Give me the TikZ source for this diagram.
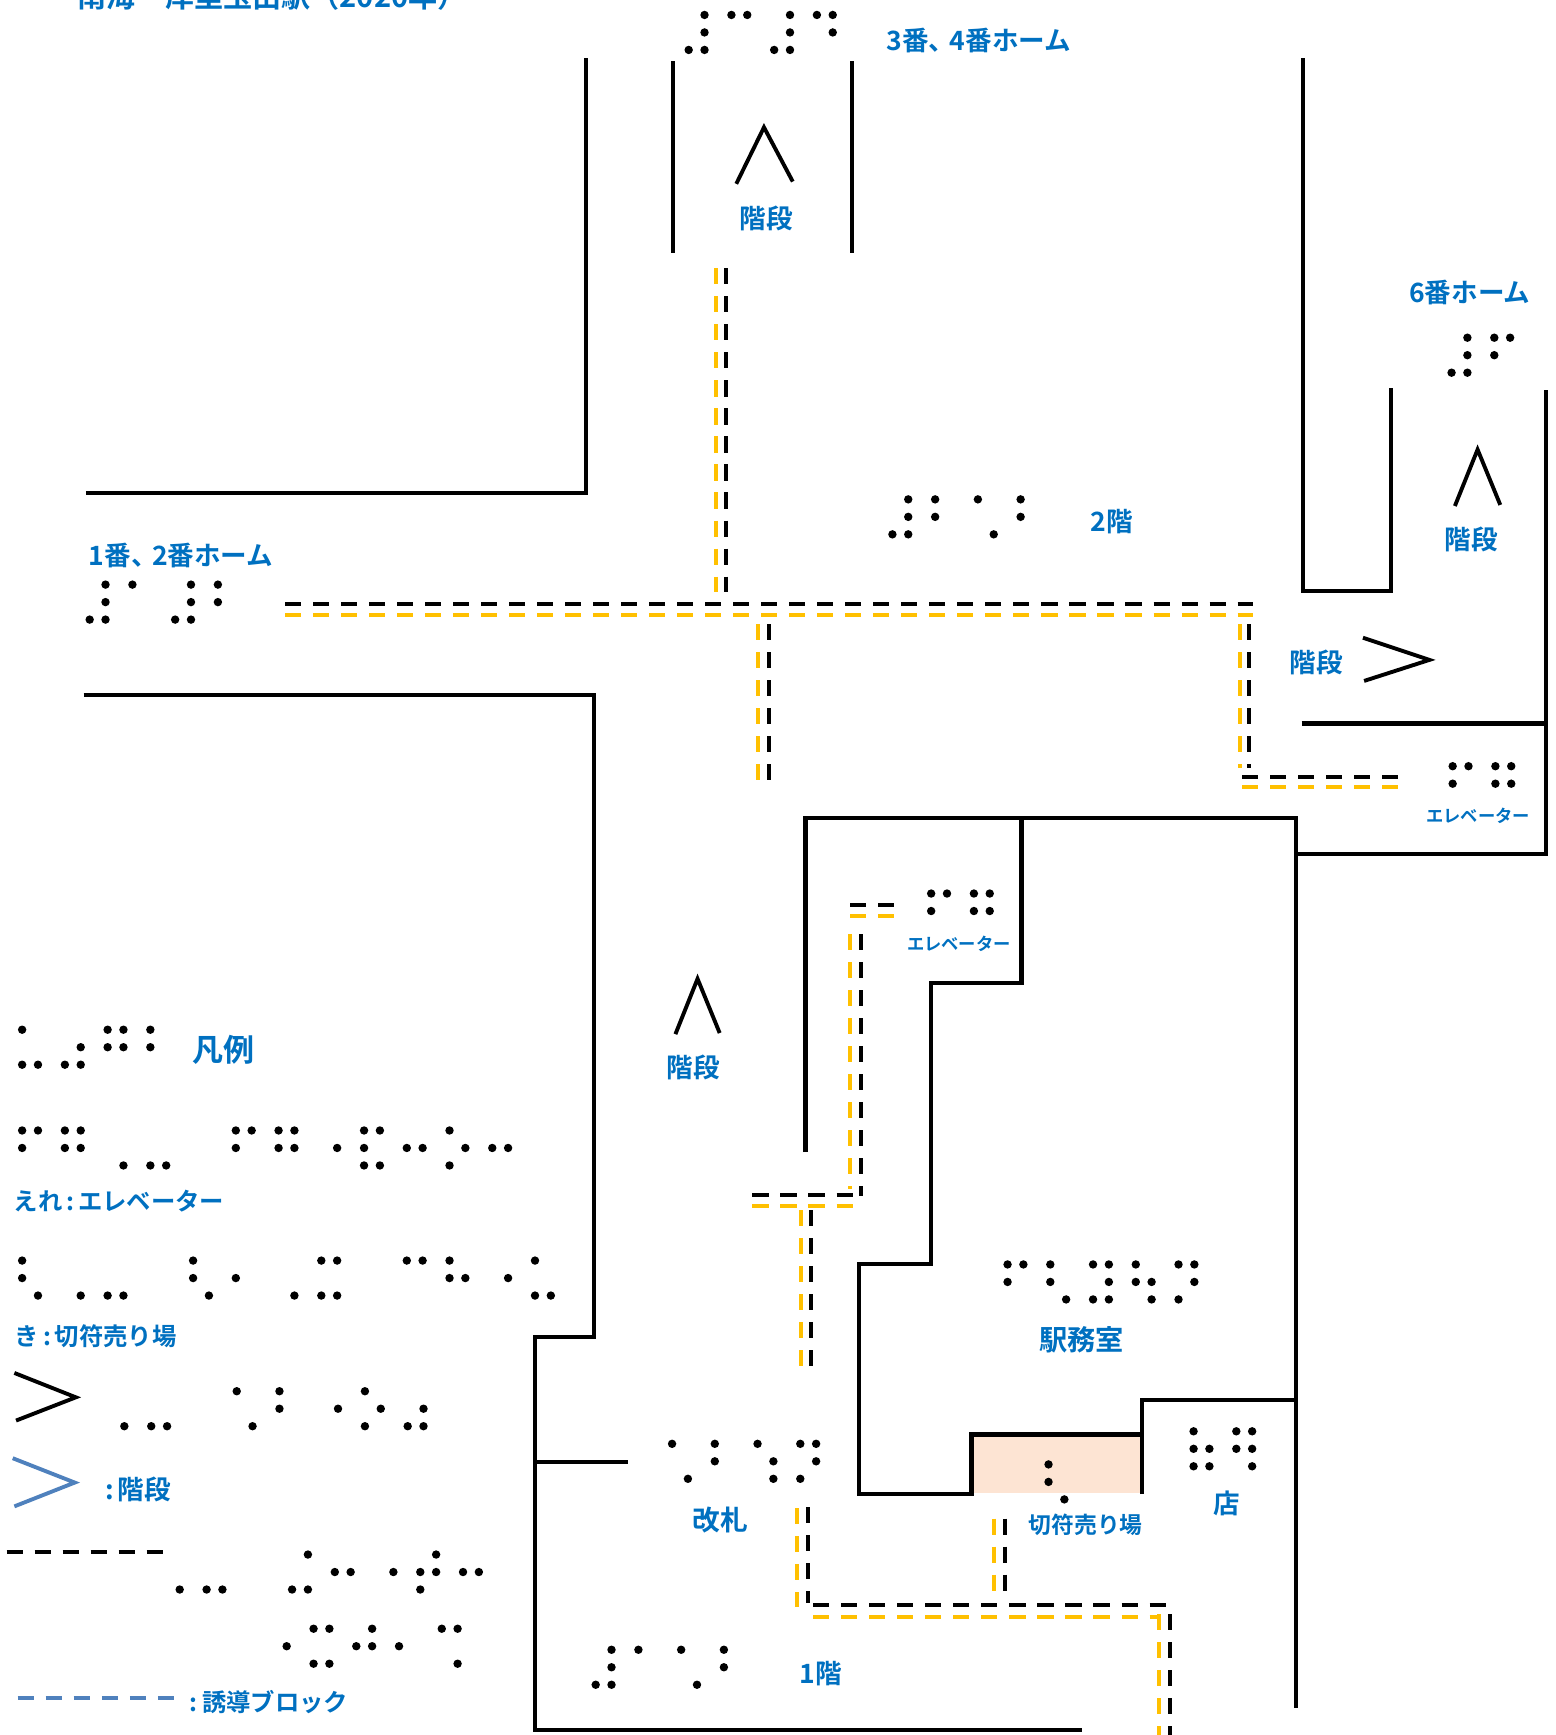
\documentclass[tikz,border=0pt]{standalone}
\usepackage{fontspec}
\setmainfont{Noto Sans CJK JP}[BoldFont={Noto Sans CJK JP Bold}]
\definecolor{lbl}{HTML}{0070C0}
\definecolor{ora}{HTML}{FFC000}
\definecolor{leg}{HTML}{4F81BD}
\definecolor{peach}{HTML}{FDE4D3}
\newcommand{\brl}[3]{%
  \foreach \cellv [count=\ci from 0] in {#3}{%
    \foreach \dv in \cellv{%
      \ifnum\dv>0
        \pgfmathsetmacro{\bx}{#1+\ci*38.6+(\dv>3?14.3:0)}%
        \pgfmathsetmacro{\by}{#2+mod(\dv-1,3)*15.8}%
        \fill (\bx,\by) circle[radius=3.8];%
      \fi
    }%
  }%
}
\newcommand{\cln}{\kern3.5pt:\kern3.5pt}
\tikzset{
  x=1pt,y=-1pt,
  wall/.style={line width=3.8pt,black,line join=miter},
  chev/.style={line width=3.5pt,black,line join=miter},
  blk/.style={line width=3.6pt,black,dash pattern=on 14.5pt off 10.8pt},
  org/.style={line width=3.6pt,ora,dash pattern=on 14.5pt off 10.8pt},
  lab/.style={font=\bfseries\fontsize{24}{24}\selectfont,text=lbl,inner sep=0pt},
  labs/.style={font=\bfseries\fontsize{15.6}{16}\selectfont,text=lbl,inner sep=0pt},
  labm/.style={font=\bfseries\fontsize{22}{22}\selectfont,text=lbl,inner sep=0pt},
}
\begin{document}
\begin{tikzpicture}
\useasboundingbox (0,0) rectangle (1405,1567);
\clip (0,0) rectangle (1405,1567);
% peach ticket area
\fill[peach] (878,1296) rectangle (1032,1348);
% walls
\begin{scope}[xshift=-0.5pt,yshift=0.5pt]
\draw[wall] (78,446) -- (530,446) -- (530,53);
\draw[wall] (608,56) -- (608,229);
\draw[wall] (770,56) -- (770,229);
\draw[wall] (1177,53) -- (1177,534) -- (1257,534) -- (1257,351);
\draw[wall] (1397,353) -- (1397,772) -- (1171,772);
\draw[wall] (1176,654) -- (1397,654);
\draw[wall] (76,628) -- (537,628) -- (537,1208) -- (484,1208) -- (484,1563) -- (978,1563);
\draw[wall] (484,1321) -- (568,1321);
\draw[wall] (728,1041) -- (728,739) -- (1171,739) -- (1171,1543);
\draw[wall] (923,739) -- (923,888) -- (841,888) -- (841,1142) -- (776,1142) -- (776,1350) -- (878,1350) -- (878,1296) -- (1032,1296);
\draw[wall] (1032,1350) -- (1032,1265) -- (1171,1265);
\end{scope}
% stair chevrons
\draw[chev] (665,166) -- (690,115) -- (716,164);
\draw[chev] (1314,457) -- (1334.5,406) -- (1355,456);
\draw[chev] (1231,576) -- (1291,596) -- (1232,615);
\draw[chev] (610,934) -- (630,884) -- (650,933);
\draw[chev] (13,1240) -- (68.5,1262) -- (14.5,1283);
\draw[chev,leg] (11.5,1317) -- (67.5,1339) -- (13,1360.5);
% guide blocks
\draw[org] (646.5,242.4) -- (646.5,535);
\draw[blk] (656,242.4) -- (656,535);
\draw[blk] (257.5,545.6) -- (1132,545.6);
\draw[org] (257.5,555.3) -- (1132,555.3);
\draw[org] (685,563.7) -- (685,705);
\draw[blk] (694.6,563.7) -- (694.6,705);
\draw[org] (1120,563.7) -- (1120,693.8);
\draw[blk] (1128.4,563.7) -- (1128.4,693.8);
\draw[blk] (1122,701.5) -- (1263,701.5);
\draw[org] (1122,711) -- (1263,711);
\draw[blk] (767.8,817.5) -- (808,817.5);
\draw[org] (767.8,827) -- (808,827);
\draw[org] (768,843.8) -- (768,1074);
\draw[blk] (777.8,843.8) -- (777.8,1080);
\draw[blk] (679.6,1079.7) -- (770,1079.7);
\draw[org] (679.6,1089.5) -- (770,1089.5);
\draw[org] (723,1093) -- (723,1235);
\draw[blk] (732.8,1093) -- (732.8,1235);
\draw[org] (719.6,1362) -- (719.6,1451.7);
\draw[blk] (729.6,1361.4) -- (729.6,1448);
\draw[blk] (734.6,1450) -- (1053,1450);
\draw[org] (734.6,1460) -- (1049,1460);
\draw[org] (1047,1458) -- (1047,1567);
\draw[blk] (1057,1458) -- (1057,1567);
\draw[org] (897.6,1371.6) -- (897.6,1437);
\draw[blk] (907.3,1371.6) -- (907.3,1437);
% legend dashes
\draw[blk] (6,1402) -- (148,1402);
\draw[line width=3.6pt,leg,dash pattern=on 14.5pt off 10.8pt] (16,1533.5) -- (157,1533.5);
% braille
\brl{622}{13.5}{{3,4,5,6},{1,4},{3,4,5,6},{1,4,5}}
\brl{1311}{305}{{3,4,5,6},{1,2,4}}
\brl{806}{451}{{3,4,5,6},{1,2},{1,6},{1,2}}
\brl{81}{528}{{3,4,5,6},{1},{3,4,5,6},{1,2}}
\brl{1312}{692}{{1,2,4},{1,2,4,5}}
\brl{841}{807}{{1,2,4},{1,2,4,5}}
\brl{20}{930}{{1,3,6},{3,5,6},{1,2,4,5},{1,2}}
\brl{20}{1021}{{1,2,4},{1,2,4,5},{6},{3,6},{0},{1,2,4},{1,2,4,5},{5},{1,2,3,4,6},{2,5},{1,3,5},{2,5}}
\brl{20}{1138.5}{{1,2,6},{6},{3,6},{0},{1,2,6},{2},{6},{1,3,4,6},{0},{1,4},{1,2,5},{5},{1,3,6}}
\brl{98}{1256.5}{{6},{3,6},{0},{1,6},{1,2},{5},{1,3,5},{3,5,6}}
\brl{148}{1404}{{6},{3,6},{0},{3,4,6},{2,5},{5},{2,3,4,5},{2,5}}
\brl{244.6}{1471}{{5},{1,3,4,6},{2,4,5},{2},{1,4,6}}
\brl{607}{1304}{{1,6},{1,2},{1,5,6},{1,3,4,5}}
\brl{538}{1490}{{3,4,5,6},{1},{1,6},{1,2}}
\brl{910}{1142}{{1,2,4},{1,2,6},{1,3,4,5,6},{1,2,5,6},{1,3,4,5}}
\brl{1078}{1292.7}{{1,2,3,5,6},{1,2,4,5,6}}
\brl{947}{1322.6}{{1,2,6}}
% labels
\node[lab,font=\bfseries\fontsize{26.3}{26}\selectfont,anchor=base west] (title) at (70,7) {南海　岸里玉出駅（2020年）};
\node[lab] (h34) at (884,37) {3番、\kern-5pt 4番ホーム};
\node[lab] (kai1) at (692,197) {階段};
\node[lab] (h6) at (1327.5,264) {6番ホーム};
\node[lab] (kai2) at (1329,487) {階段};
\node[lab] (f2) at (1004,471) {2階};
\node[lab] (h12) at (163.5,502) {1番、\kern-5pt 2番ホーム};
\node[lab] (kai3) at (1189,598) {階段};
\node[labs] (ev1) at (1335,737) {エレベーター};
\node[labs] (ev2) at (866,852) {エレベーター};
\node[lab,font=\bfseries\fontsize{28}{28}\selectfont] (hanrei) at (202,948) {凡例};
\node[lab] (kai4) at (626,964) {階段};
\node[labm] (legev) at (107.5,1085) {えれ\cln エレベーター};
\node[labm] (legki) at (86.5,1207) {き\cln 切符売り場};
\node[lab] (legst) at (124.5,1345) {:\kern3.5pt 階段};
\node[labm] (legbl) at (243,1537) {:\kern4pt 誘導ブロック};
\node[lab,font=\bfseries\fontsize{25.5}{26}\selectfont] (eki) at (977,1210.5) {駅務室};
\node[lab,font=\bfseries\fontsize{25}{25}\selectfont] (kaisatsu) at (650.5,1372.5) {改札};
\node[labm,font=\bfseries\fontsize{20.6}{21}\selectfont] (kippu) at (980.5,1377) {切符売り場};
\node[lab] (mise) at (1108,1358) {店};
\node[lab] (f1) at (741,1511.5) {1階};
\end{tikzpicture}
\end{document}
